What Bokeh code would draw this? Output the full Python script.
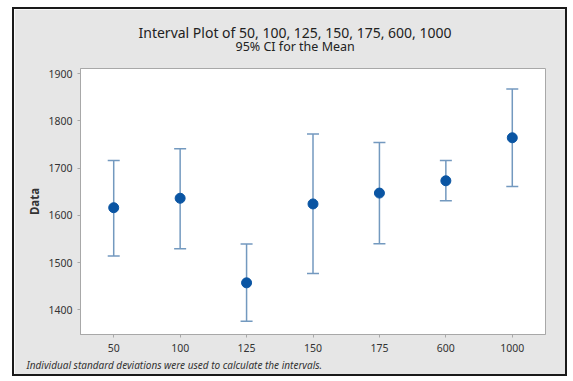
from bokeh.plotting import figure
from bokeh.models import ColumnDataSource, Whisker, TeeHead, Title, FactorRange, Range1d, FixedTicker
from bokeh.embed import file_html
from bokeh.resources import INLINE

categories = ["50", "100", "125", "150", "175", "600", "1000"]
means = [1616, 1636, 1457, 1624, 1647, 1673, 1764]
lower = [1514, 1529, 1376, 1477, 1540, 1631, 1661]
upper = [1716, 1741, 1539, 1772, 1754, 1716, 1867]
y_ticks = [1400, 1500, 1600, 1700, 1800, 1900]

FONT = "Noto Sans"
BG = "#e6e6e6"
WHISK = "#7399bf"
DOT = "#0a55a3"

src = ColumnDataSource(dict(cat=categories, mean=means, lo=lower, hi=upper))

p = figure(width=555, height=369, x_range=FactorRange(*categories, range_padding=0),
           y_range=Range1d(1347.7, 1910.6), output_backend="svg", toolbar_location=None,
           min_border_left=66, min_border_right=24, min_border_top=59, min_border_bottom=44)
p.styles = {"border": "2px solid #1a1a1a", "position": "relative", "left": "12px",
            "top": "7px"}
p.title.visible = False
p.background_fill_color = "white"
p.border_fill_color = BG
p.outline_line_color = "#a8a8a8"
p.outline_line_width = 1
p.grid.visible = False

for ax in (p.xaxis[0], p.yaxis[0]):
    ax.axis_line_color = "#a8a8a8"
    ax.major_tick_line_color = "#a8a8a8"
    ax.major_tick_in = 0
    ax.major_tick_out = 3
    ax.minor_tick_line_color = None
    ax.major_label_text_font = FONT
    ax.major_label_text_font_size = "10.5px"
    ax.major_label_text_color = "#333333"
p.yaxis.ticker = FixedTicker(ticks=y_ticks)
p.yaxis.axis_label = "Data"
p.yaxis.axis_label_text_font = FONT
p.yaxis.axis_label_text_font_size = "11.5px"
p.yaxis.axis_label_text_font_style = "bold"
p.yaxis.axis_label_text_color = "#333333"
p.yaxis.axis_label_standoff = 3
p.xaxis.major_label_standoff = 6

w = Whisker(source=src, base="cat", lower="lo", upper="hi", line_color=WHISK, line_width=1.5,
            upper_head=TeeHead(size=12, line_color=WHISK, line_width=1.5),
            lower_head=TeeHead(size=12, line_color=WHISK, line_width=1.5))
p.add_layout(w)
p.scatter(x="cat", y="mean", source=src, size=10, color=DOT)

p.add_layout(Title(text="95% CI for the Mean", align="left", offset=155, standoff=28,
                   text_font=FONT, text_font_size="12.5px", text_font_style="normal",
                   text_color="#222222"), "above")
p.add_layout(Title(text="Interval Plot of 50, 100, 125, 150, 175, 600, 1000", align="left",
                   offset=58, standoff=-40, text_font=FONT, text_font_size="14px",
                   text_font_style="normal", text_color="#222222"), "above")
p.add_layout(Title(text="Individual standard deviations were used to calculate the intervals.",
                   align="left", offset=-54, standoff=6, vertical_align="top",
                   text_font=FONT, text_font_size="10px", text_font_style="italic",
                   text_color="#333333"), "below")

open("out.html", "w").write(file_html(p, INLINE))
